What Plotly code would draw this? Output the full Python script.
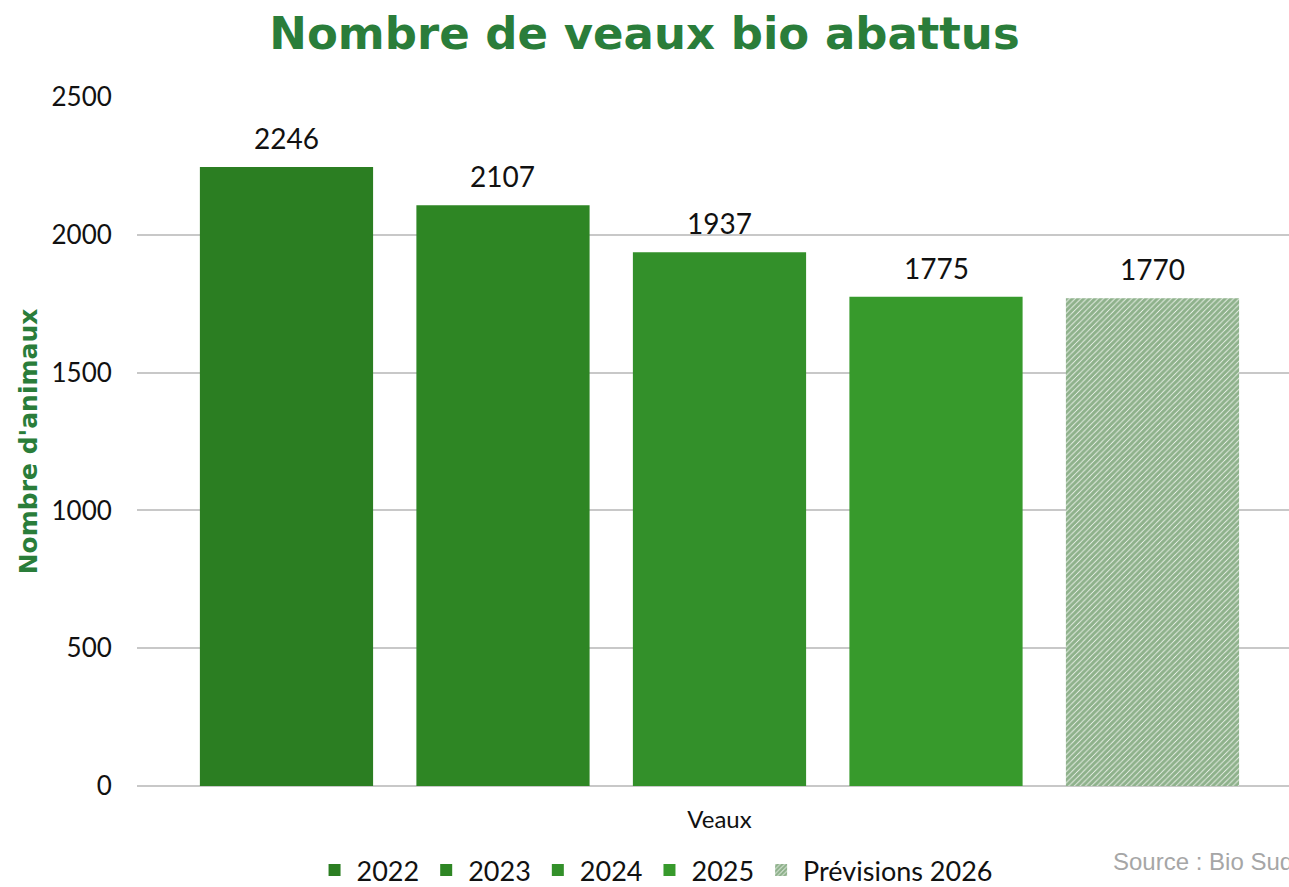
import plotly.graph_objects as go

group_label = "Veaux"
series_names = ["2022", "2023", "2024", "2025", "Prévisions 2026"]
values = [2246, 2107, 1937, 1775, 1770]
colors = ["#2b7e22", "#2e8624", "#33902a", "#379a2c", "#1d6417"]
y_ticks = [0, 500, 1000, 1500, 2000, 2500]

BODY = "Lato"
TITLE_FONT = "DejaVu Sans"
GREEN_TITLE = "#2a7d3a"

fig = go.Figure()
for i, (name, v, c) in enumerate(zip(series_names, values, colors)):
    if name.startswith("Prévisions"):
        marker = dict(color="white", line=dict(width=0),
                      pattern=dict(shape="/", fgcolor=c, bgcolor="white", size=4, solidity=0.8))
    else:
        marker = dict(color=c, line=dict(width=0))
    fig.add_trace(go.Bar(x=[i], y=[v], name=name, marker=marker, width=0.8, hoverinfo="name+y"))
    fig.add_annotation(x=i, y=v, text=str(v), showarrow=False, yanchor="bottom", yshift=10,
                       font=dict(family=BODY, size=28, color="#111111"))

n = len(series_names)
fig.update_layout(
    width=1289, height=887,
    margin=dict(l=137, r=0, t=97, b=101, autoexpand=False),
    paper_bgcolor="white", plot_bgcolor="white",
    barmode="overlay",
    title=dict(text="<b>Nombre de veaux bio abattus</b>", x=0.5, xanchor="center",
               xref="container", yref="container", y=1 - 33 / 887, yanchor="middle",
               font=dict(family=TITLE_FONT, size=45, color=GREEN_TITLE)),
    showlegend=True,
    legend=dict(orientation="h", x=0.4497, xanchor="center", y=-(101 + 8) / 689, yanchor="bottom",
                font=dict(family=BODY, size=27, color="#111111"),
                itemwidth=34, traceorder="normal", bgcolor="rgba(0,0,0,0)"),
)
fig.update_xaxes(range=[-0.6905, 4.6305], tickvals=[(n - 1) / 2], ticktext=[group_label],
                 showgrid=False, showline=False, zeroline=False,
                 tickfont=dict(family=BODY, size=24, color="#111111"),
                 ticks="outside", ticklen=12, tickcolor="rgba(0,0,0,0)")
fig.update_yaxes(range=[0, 2500], tickvals=y_ticks, showgrid=True, gridcolor="#c8c8c8", gridwidth=2,
                 zeroline=True, zerolinecolor="#c8c8c8", zerolinewidth=2, showline=False,
                 tickfont=dict(family=BODY, size=26, color="#111111"),
                 ticks="outside", ticklen=19, tickcolor="rgba(0,0,0,0)",
                 title=dict(text="<b>Nombre d'animaux</b>", standoff=6,
                            font=dict(family=TITLE_FONT, size=25, color=GREEN_TITLE)))
fig.add_annotation(text="Source : Bio Sud-Ouest", xref="paper", yref="paper",
                   x=(1111 - 137) / 1152, y=-(861 - 786) / 689, xanchor="left", yanchor="middle",
                   showarrow=False, font=dict(family="Liberation Sans", size=24, color="#a6a6a6"))
fig.write_html("out.html", config={"displayModeBar": False},
               post_script="document.body.style.margin='0';document.documentElement.style.overflow='hidden';document.body.style.overflow='hidden';")
